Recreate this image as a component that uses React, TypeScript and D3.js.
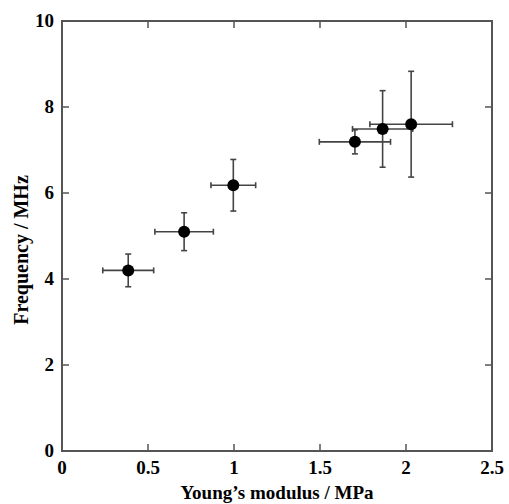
import React, { useEffect, useRef } from "react";
import * as d3 from "d3";

// values
const modulus = [0.385, 0.71, 0.996, 1.703, 1.864, 2.03];
const modulusErr = [0.148, 0.17, 0.13, 0.207, 0.175, 0.24];
const frequency = [4.2, 5.1, 6.18, 7.19, 7.49, 7.6];
const frequencyErr = [0.38, 0.44, 0.6, 0.28, 0.89, 1.23];
const xTicks = [0, 0.5, 1, 1.5, 2, 2.5];
const xTickLabels = ["0", "0.5", "1", "1.5", "2", "2.5"];
const yTicks = [0, 2, 4, 6, 8, 10];

const W = 509;
const H = 504;
const margin = { top: 21, right: 17, bottom: 53, left: 62 };
const font = "'Liberation Serif', 'Times New Roman', serif";

export default function App() {
  const svgRef = useRef<SVGSVGElement>(null);

  useEffect(() => {
    const svg = d3.select(svgRef.current);
    svg.selectAll("*").remove();

    const x = d3.scaleLinear().domain([0, 2.5]).range([margin.left, W - margin.right]);
    const y = d3.scaleLinear().domain([0, 10]).range([H - margin.bottom, margin.top]);

    const axisColor = "#555";
    const tickLen = 7;

    // frame
    svg.append("rect")
      .attr("x", x(0))
      .attr("y", y(10))
      .attr("width", x(2.5) - x(0))
      .attr("height", y(0) - y(10))
      .attr("fill", "none")
      .attr("stroke", axisColor)
      .attr("stroke-width", 2);

    // inward ticks on all four sides
    const g = svg.append("g").attr("stroke", axisColor).attr("stroke-width", 1.5);
    xTicks.slice(1, -1).forEach((t) => {
      g.append("line").attr("x1", x(t)).attr("x2", x(t)).attr("y1", y(0)).attr("y2", y(0) - tickLen);
      g.append("line").attr("x1", x(t)).attr("x2", x(t)).attr("y1", y(10)).attr("y2", y(10) + tickLen);
    });
    yTicks.slice(1, -1).forEach((t) => {
      g.append("line").attr("x1", x(0)).attr("x2", x(0) + tickLen).attr("y1", y(t)).attr("y2", y(t));
      g.append("line").attr("x1", x(2.5)).attr("x2", x(2.5) - tickLen).attr("y1", y(t)).attr("y2", y(t));
    });

    // tick labels
    svg.append("g")
      .selectAll("text")
      .data(xTicks)
      .join("text")
      .attr("x", (d) => x(d))
      .attr("y", y(0) + 23)
      .attr("text-anchor", "middle")
      .style("font-family", font)
      .style("font-weight", "bold")
      .style("font-size", "19px")
      .text((d, i) => xTickLabels[i]);

    svg.append("g")
      .selectAll("text")
      .data(yTicks)
      .join("text")
      .attr("x", x(0) - 8)
      .attr("y", (d) => y(d) + 6)
      .attr("text-anchor", "end")
      .style("font-family", font)
      .style("font-weight", "bold")
      .style("font-size", "19px")
      .text((d) => d);

    // axis titles
    svg.append("text")
      .attr("x", (x(0) + x(2.5)) / 2)
      .attr("y", 499)
      .attr("text-anchor", "middle")
      .style("font-family", font)
      .style("font-weight", "bold")
      .style("font-size", "19px")
      .text("Young\u2019s modulus / MPa");

    svg.append("text")
      .attr("transform", `translate(28, 250) rotate(-90)`)
      .attr("text-anchor", "middle")
      .style("font-family", font)
      .style("font-weight", "bold")
      .style("font-size", "20px")
      .text("Frequency / MHz");

    // error bars
    const cap = 3;
    const eb = svg.append("g").attr("stroke", "#444").attr("stroke-width", 1.6);
    modulus.forEach((m, i) => {
      const f = frequency[i];
      const x0 = x(m - modulusErr[i]);
      const x1 = x(m + modulusErr[i]);
      const y0 = y(f - frequencyErr[i]);
      const y1 = y(f + frequencyErr[i]);
      eb.append("line").attr("x1", x0).attr("x2", x1).attr("y1", y(f)).attr("y2", y(f));
      eb.append("line").attr("x1", x0).attr("x2", x0).attr("y1", y(f) - cap).attr("y2", y(f) + cap);
      eb.append("line").attr("x1", x1).attr("x2", x1).attr("y1", y(f) - cap).attr("y2", y(f) + cap);
      eb.append("line").attr("x1", x(m)).attr("x2", x(m)).attr("y1", y0).attr("y2", y1);
      eb.append("line").attr("x1", x(m) - cap).attr("x2", x(m) + cap).attr("y1", y0).attr("y2", y0);
      eb.append("line").attr("x1", x(m) - cap).attr("x2", x(m) + cap).attr("y1", y1).attr("y2", y1);
    });

    // points
    svg.append("g")
      .selectAll("circle")
      .data(modulus)
      .join("circle")
      .attr("cx", (d) => x(d))
      .attr("cy", (d, i) => y(frequency[i]))
      .attr("r", 6)
      .attr("fill", "#000");
  }, []);

  return (
    <svg
      ref={svgRef}
      width={W}
      height={H}
      style={{ position: "absolute", left: 0, top: 0, background: "#fff" }}
    />
  );
}
